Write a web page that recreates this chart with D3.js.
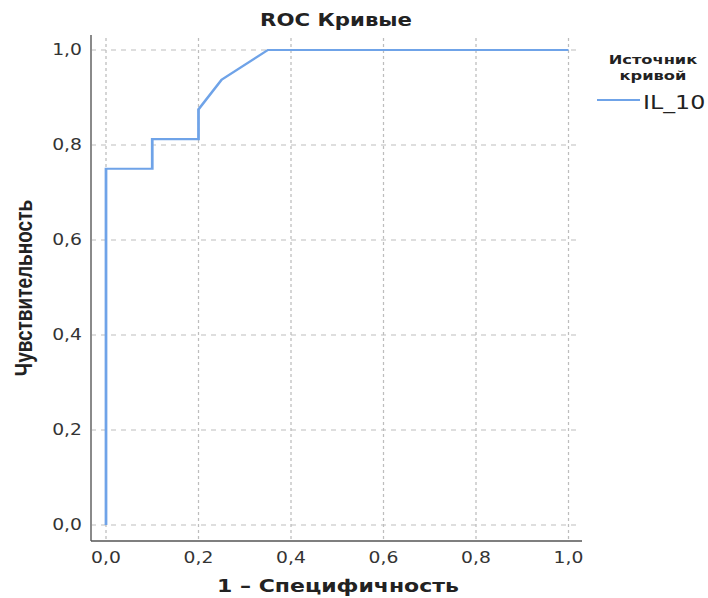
<!DOCTYPE html>
<html lang="ru">
<head>
<meta charset="utf-8" />
<title>ROC Кривые</title>
<script src="https://d3js.org/d3.v7.min.js"></script>
<style>
    html, body { margin: 0; padding: 0; background: #fff; }
    svg { display: block; }
    .tick-label { font: 15px "DejaVu Sans", sans-serif; fill: #333; }
    .bold { font-family: "DejaVu Sans", sans-serif; font-weight: bold; fill: #222; }
</style>
</head>
<body>
<svg id="chart"></svg>
<script>
    // ROC curve points (1 - specificity, sensitivity)
    const fpr = [0, 0, 0.1, 0.1, 0.2, 0.2, 0.25, 0.35, 1.0];
    const tpr = [0, 0.75, 0.75, 0.8125, 0.8125, 0.875, 0.9375, 1.0, 1.0];
    const xTicks = [0, 0.2, 0.4, 0.6, 0.8, 1.0];
    const yTicks = [0, 0.2, 0.4, 0.6, 0.8, 1.0];
    const seriesName = "IL_10";

    const W = 708, H = 598;
    // the original picture is stretched sideways, so draw narrow and let the svg stretch it
    const sx = 1.25;
    const vw = W / sx;

    const svg = d3.select("#chart")
        .attr("width", W)
        .attr("height", H)
        .attr("viewBox", `0 0 ${vw} ${H}`)
        .attr("preserveAspectRatio", "none");

    const frame = { left: 91 / sx, right: 582 / sx, top: 35, bottom: 541 };

    const x = d3.scaleLinear().domain([0, 1]).range([106 / sx, 568.5 / sx]);
    const y = d3.scaleLinear().domain([0, 1]).range([525, 50]);
    const fmt = d => d3.format(".1f")(d).replace(".", ",");

    // grid
    svg.append("g")
        .selectAll("line")
        .data(yTicks)
        .join("line")
        .attr("x1", frame.left).attr("x2", 577 / sx)
        .attr("y1", d => y(d)).attr("y2", d => y(d))
        .attr("stroke", "#bdbdbd")
        .attr("stroke-width", 1)
        .attr("stroke-dasharray", "4,4");

    svg.append("g")
        .selectAll("line")
        .data(xTicks)
        .join("line")
        .attr("x1", d => x(d)).attr("x2", d => x(d))
        .attr("y1", frame.top + 3).attr("y2", frame.bottom)
        .attr("stroke", "#bdbdbd")
        .attr("stroke-width", 1)
        .attr("stroke-dasharray", "3,3");

    // axes
    svg.append("line")
        .attr("x1", frame.left).attr("x2", frame.left)
        .attr("y1", frame.top).attr("y2", frame.bottom)
        .attr("stroke", "#8a8a8a").attr("stroke-width", 1.6);
    svg.append("line")
        .attr("x1", frame.left).attr("x2", frame.right)
        .attr("y1", frame.bottom).attr("y2", frame.bottom)
        .attr("stroke", "#555").attr("stroke-width", 1.5);

    svg.append("g")
        .selectAll("text")
        .data(xTicks)
        .join("text")
        .attr("class", "tick-label")
        .attr("x", d => x(d))
        .attr("y", 563)
        .attr("text-anchor", "middle")
        .text(fmt);

    svg.append("g")
        .selectAll("text")
        .data(yTicks)
        .join("text")
        .attr("class", "tick-label")
        .attr("x", 82 / sx)
        .attr("y", d => y(d))
        .attr("dy", "0.36em")
        .attr("text-anchor", "end")
        .text(fmt);

    // curve
    const pts = fpr.map((f, i) => [f, tpr[i]]);
    svg.append("path")
        .datum(pts)
        .attr("fill", "none")
        .attr("stroke", "#6fa3e8")
        .attr("stroke-width", 2.2)
        .attr("d", d3.line().x(d => x(d[0])).y(d => y(d[1])));

    // titles
    svg.append("text")
        .attr("class", "bold")
        .attr("x", 336 / sx).attr("y", 26)
        .attr("text-anchor", "middle")
        .style("font-size", "17px")
        .text("ROC Кривые");

    svg.append("text")
        .attr("class", "bold")
        .attr("x", 338 / sx).attr("y", 592)
        .attr("text-anchor", "middle")
        .style("font-size", "17.6px")
        .text("1 – Специфичность");

    svg.append("text")
        .attr("transform", `translate(${32 / sx},288) rotate(-90)`)
        .attr("text-anchor", "middle")
        .style("font", "bold 19px 'Liberation Sans', Arial, sans-serif")
        .style("fill", "#222")
        .text("Чувствительность");

    // legend
    const legend = svg.append("g");
    legend.append("text")
        .attr("class", "bold")
        .attr("x", 653 / sx).attr("y", 64)
        .attr("text-anchor", "middle")
        .style("font-size", "13px")
        .text("Источник");
    legend.append("text")
        .attr("class", "bold")
        .attr("x", 653 / sx).attr("y", 80)
        .attr("text-anchor", "middle")
        .style("font-size", "13px")
        .text("кривой");
    legend.append("line")
        .attr("x1", 597 / sx).attr("x2", 640 / sx)
        .attr("y1", 100).attr("y2", 100)
        .attr("stroke", "#6fa3e8").attr("stroke-width", 2.2);
    legend.append("text")
        .attr("x", 643 / sx).attr("y", 109)
        .style("font", "19px 'DejaVu Sans', sans-serif")
        .style("fill", "#222")
        .text(seriesName);
</script>
</body>
</html>
